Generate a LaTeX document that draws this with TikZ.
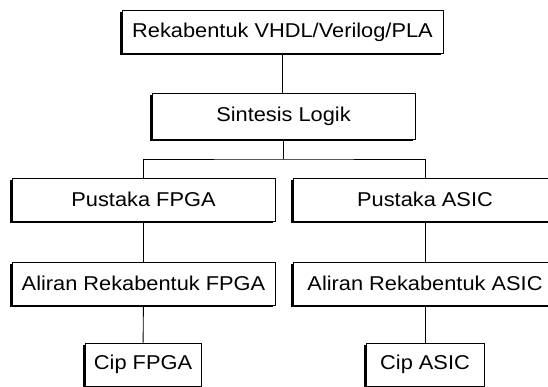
\documentclass[tikz,border=0pt]{standalone}
\usepackage{fontspec}
\setmainfont[FakeStretch=1.09]{Liberation Sans}
\usetikzlibrary{shadows, positioning}

\begin{document}
\begin{tikzpicture}[x=1pt, y=-1pt, line width=0.9pt,
	kotak/.style={draw, fill=white, minimum height=43pt, inner sep=0pt,
		font=\fontsize{20}{24}\selectfont,
		drop shadow={shadow xshift=-2pt, shadow yshift=-2pt, opacity=1, fill=black}}]
			\useasboundingbox (0,0) rectangle (548,387);
			
			%% Rekabentuk
			\node [kotak, minimum width=321pt] (reka) at (282.5,32) {Rekabentuk VHDL/Verilog/PLA};
			
			%% Sintesis
			\node [kotak, minimum width=263pt, minimum height=46pt] (sintesis) at (283.5,116) {Sintesis Logik};
			\draw (reka) -- (reka |- sintesis.north);
			
			%% Pustaka
			\node [kotak, minimum width=263pt] (pfpga) at (143.5,199.5) {Pustaka FPGA};
			\node [kotak, minimum width=264pt] (pasic) at (425,199.5) {Pustaka ASIC};
			\coordinate (cabang) at (283.5,159);
			\draw (sintesis) -- (cabang);
			\draw (pfpga.north) |- (cabang) -| (pasic.north);
			
			%% Aliran
			\node [kotak, minimum width=263pt] (afpga) at (143.5,283.5) {Aliran Rekabentuk FPGA};
			\node [kotak, minimum width=264pt] (aasic) at (425,283.5) {Aliran Rekabentuk ASIC};
			\draw (pfpga) -- (afpga);
			\draw (pasic) -- (aasic);
			
			%% Cip
			\node [kotak, minimum width=116pt] (cfpga) at (143,364.5) {Cip FPGA};
			\node [kotak, minimum width=118pt] (casic) at (425,364.5) {Cip ASIC};
			\draw (afpga) -- (cfpga);
			\draw (aasic) -- (casic);
		\end{tikzpicture}
\end{document}
